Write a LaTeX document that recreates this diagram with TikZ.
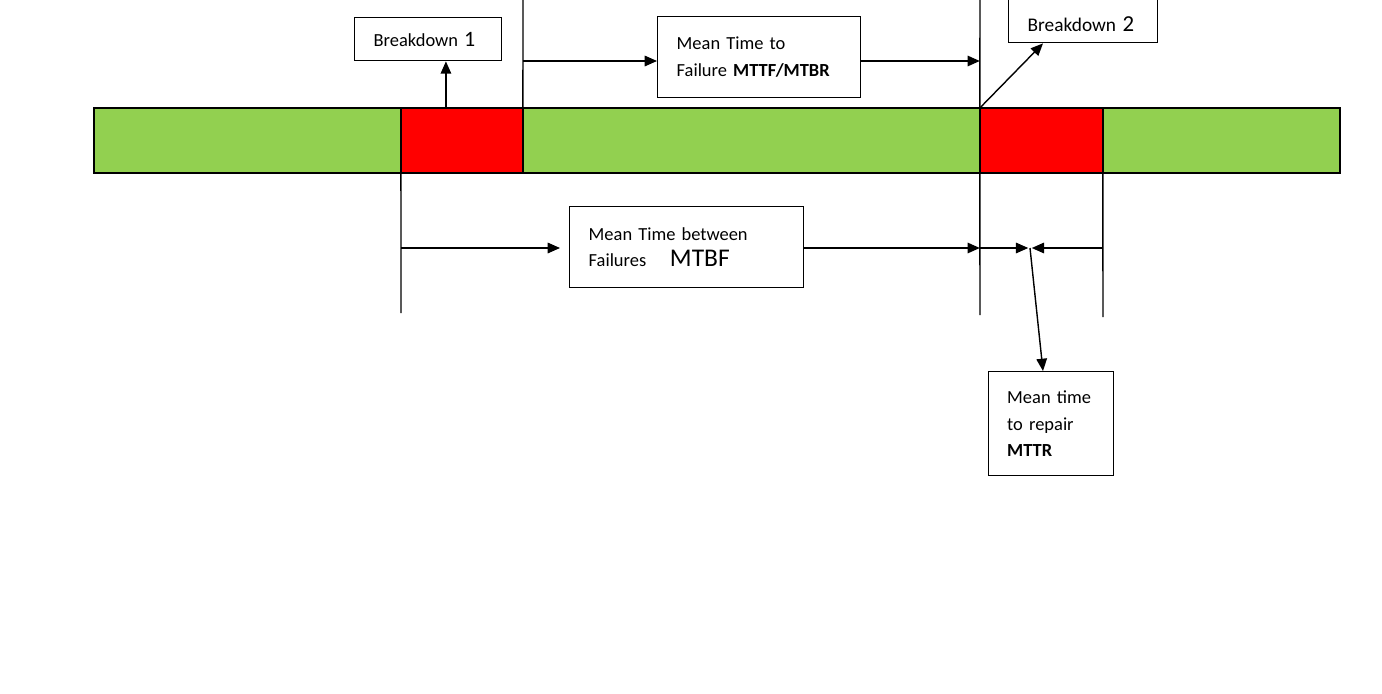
\documentclass[tikz,border=0pt]{standalone}
\usepackage{fontspec}
\setmainfont{Carlito}
\usetikzlibrary{arrows.meta,positioning}

\definecolor{upgreen}{HTML}{92D050}
\definecolor{downred}{HTML}{FF0000}

\begin{document}
\begin{tikzpicture}[x=0.02cm, y=-0.02cm, line width=0.8pt,
	>={Triangle[length=7pt,width=6pt]},
	seg/.style={draw, line width=0.9pt, inner sep=0pt, outer sep=0pt, minimum height=1.3cm},
	up/.style={seg, fill=upgreen},
	down/.style={seg, fill=downred},
	box/.style={draw, anchor=north west, align=left, inner xsep=0.38cm, inner ysep=0pt,
		font=\fontsize{10.5}{15.3}\selectfont}]
	\path[use as bounding box, fill=white] (0,0) rectangle (1382,693);

	\node[up, anchor=north west, minimum width=6.14cm] (up1) at (94,108) {};
	\node[down, minimum width=2.44cm] (down1) [right=0pt of up1] {};
	\node[up, minimum width=9.14cm] (up2) [right=0pt of down1] {};
	\node[down, minimum width=2.46cm] (down2) [right=0pt of up2] {};
	\node[up, minimum width=4.74cm] (up3) [right=0pt of down2] {};

	\node[box, text width=2.18cm, minimum height=0.86cm] (bd1) at (354,17)
		{Breakdown {\fontsize{12.5}{14}\selectfont 1}};
	\node[box, text width=2.22cm, minimum height=0.86cm, text height=0.42cm, text depth=0pt,
		font=\fontsize{11}{15}\selectfont] (bd2) at (1008,-1)
		{Breakdown {\fontsize{13}{14}\selectfont 2}};
	\node[box, text width=3.3cm, minimum height=1.62cm] (mttf) at (657,16)
		{Mean Time to\\Failure \textbf{MTTF/MTBR}};
	\node[box, text width=3.92cm, minimum height=1.62cm] (mtbf) at (569,206)
		{Mean Time between\\Failures\hspace{10pt} {\fontsize{14.5}{15}\selectfont MTBF}};
	\node[box, text width=1.76cm, minimum height=2.08cm, inner xsep=0.37cm] (mttr) at (988,371)
		{Mean time\\to repair\\\textbf{MTTR}};

	\coordinate (top1) at (523,0);
	\coordinate (top2) at (980,0);
	\coordinate (ttf) at (523,61);
	\coordinate (tbf) at (401,248);
	\coordinate (mid) at (1030,248);
	\coordinate (end1) at (401,313);
	\coordinate (end2) at (980,315);
	\coordinate (end3) at (1103,317);

	\draw (down1.north east) -- (top1);
	\draw (down2.north west) -- (top2);
	\draw (down1.south west) -- (end1);
	\draw (down2.south west) -- (end2);
	\draw (down2.south east) -- (end3);

	\draw[->] ([xshift=0.9cm]down1.north west) coordinate (k1) -- (k1 |- bd1.south);
	\draw[->] (down2.north west) -- ([xshift=0.7cm]bd2.south west);
	\draw[->] (ttf) -- (ttf -| mttf.west);
	\draw[->] (ttf -| mttf.east) -- (ttf -| down2.west);
	\draw[->, shorten >=0.18cm] (tbf) -- (tbf -| mtbf.west);
	\draw[->] (tbf -| mtbf.east) -- (tbf -| down2.west);
	\draw[->, shorten >=1pt] (tbf -| down2.west) -- (mid);
	\draw[->, shorten >=1pt] (tbf -| down2.east) -- (mid);
	\draw[->] (mid) -- ([xshift=1.1cm]mttr.north west);
\end{tikzpicture}
\end{document}
